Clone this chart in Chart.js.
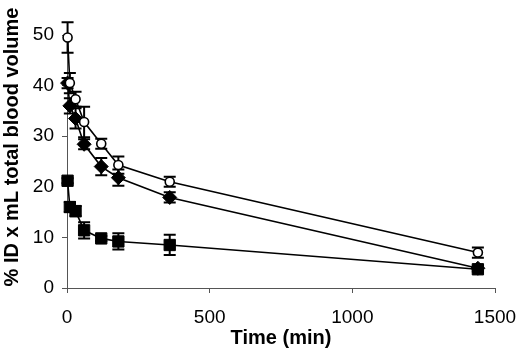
<!DOCTYPE html>
<html>
<head>
<meta charset="utf-8">
<script src="https://cdn.jsdelivr.net/npm/chart.js@4.4.1/dist/chart.umd.min.js"></script>
<style>
  html, body { margin: 0; padding: 0; background: #fff; }
  #wrap { width: 520px; height: 352px; }
</style>
</head>
<body>
<div id="wrap"><canvas id="myChart" width="520" height="352"></canvas></div>
<script>
// sampling times (min)
const times = [2, 10, 30, 60, 120, 180, 360, 1440];

// open circles
const circleVals = [49.5, 40.5, 37.3, 32.8, 28.5, 24.3, 21.0, 7.0];
const circleErr = [3, 2, 1.5, 3, 1, 1.7, 1, 1];
// filled diamonds
const diamondVals = [40.5, 36.0, 33.5, 28.4, 24.0, 21.8, 17.9, 3.9];
const diamondErr = [1, 1.5, 2, 1, 1.7, 1.6, 1, 0.5];
// filled squares
const squareVals = [21.2, 16.0, 15.2, 11.4, 9.8, 9.2, 8.5, 3.7];
const squareErr = [0.5, 1, 1, 1.6, 0.5, 1.6, 2, 0.5];

const xTicks = [0, 500, 1000, 1500];
const yTitle = '% ID x mL total blood volume';
const xTitle = 'Time (min)';

const FONT = "'Liberation Sans', Arial, sans-serif";

function pts(vals, errs) {
  return vals.map((v, i) => ({ x: times[i], y: v, err: errs[i] }));
}

// error bars with caps, drawn under the markers
const errorBars = {
  id: 'errorBars',
  beforeDatasetsDraw(chart) {
    const ctx = chart.ctx;
    const xs = chart.scales.x, ys = chart.scales.y;
    ctx.save();
    ctx.strokeStyle = '#000';
    ctx.lineWidth = 2;
    chart.data.datasets.forEach(ds => {
      ds.data.forEach(p => {
        const px = xs.getPixelForValue(p.x);
        const top = ys.getPixelForValue(p.y + p.err);
        const bot = ys.getPixelForValue(p.y - p.err);
        ctx.beginPath();
        ctx.moveTo(px, top); ctx.lineTo(px, bot);
        ctx.moveTo(px - 6, top); ctx.lineTo(px + 6, top);
        ctx.moveTo(px - 6, bot); ctx.lineTo(px + 6, bot);
        ctx.stroke();
      });
    });
    ctx.restore();
  }
};

// rotated y title, placed like the original (not centred on the plot)
const yTitlePlugin = {
  id: 'yTitlePlugin',
  afterDraw(chart) {
    const ctx = chart.ctx;
    ctx.save();
    ctx.translate(12, 147);
    ctx.rotate(-Math.PI / 2);
    ctx.font = 'bold 20px ' + FONT;
    ctx.fillStyle = '#000';
    ctx.textAlign = 'center';
    ctx.textBaseline = 'middle';
    ctx.fillText(yTitle, 0, 0);
    ctx.restore();
  }
};

const ctx = document.getElementById('myChart');

const myChart = new Chart(ctx, {
  type: 'scatter',
  data: {
    datasets: [
      {
        label: 'circles',
        data: pts(circleVals, circleErr),
        showLine: true,
        borderColor: '#000',
        borderWidth: 1.6,
        pointStyle: 'circle',
        pointRadius: 4.5,
        pointBackgroundColor: '#fff',
        pointBorderColor: '#000',
        pointBorderWidth: 1.6,
        clip: false
      },
      {
        label: 'diamonds',
        data: pts(diamondVals, diamondErr),
        showLine: true,
        borderColor: '#000',
        borderWidth: 1.6,
        pointStyle: 'rectRot',
        pointRadius: 7,
        pointBackgroundColor: '#000',
        pointBorderColor: '#000',
        pointBorderWidth: 1,
        clip: false
      },
      {
        label: 'squares',
        data: pts(squareVals, squareErr),
        showLine: true,
        borderColor: '#000',
        borderWidth: 1.6,
        pointStyle: 'rect',
        pointRadius: 8,
        pointBackgroundColor: '#000',
        pointBorderColor: '#000',
        pointBorderWidth: 1,
        clip: false
      }
    ]
  },
  options: {
    responsive: false,
    animation: false,
    layout: { padding: { top: 35, right: 25, left: 0, bottom: 0 } },
    plugins: {
      legend: { display: false },
      tooltip: { enabled: false }
    },
    scales: {
      x: {
        type: 'linear',
        min: 0,
        max: 1500,
        afterBuildTicks: (scale) => { scale.ticks = xTicks.map(v => ({ value: v })); },
        afterFit: (scale) => { scale.height = 64; scale.paddingRight = 0; },
        border: { display: true, color: '#555', width: 1 },
        grid: { drawOnChartArea: false, drawTicks: true, tickLength: 5, color: '#555' },
        ticks: {
          color: '#000',
          padding: 13,
          maxRotation: 0,
          font: { family: FONT, size: 19 },
          callback: (v) => String(v)
        },
        title: {
          display: true,
          text: xTitle,
          color: '#000',
          font: { family: FONT, size: 20, weight: 'bold' },
          padding: { top: 0, bottom: 2 }
        }
      },
      y: {
        min: 0,
        max: 50,
        afterFit: (scale) => { scale.width = 67; },
        border: { display: true, color: '#555', width: 1 },
        grid: { drawOnChartArea: false, drawTicks: true, tickLength: 5, color: '#555' },
        ticks: {
          stepSize: 5,
          color: '#000',
          padding: 8,
          font: { family: FONT, size: 19 },
          callback: (v) => (v % 10 === 0 ? v : '')
        }
      }
    }
  },
  plugins: [errorBars, yTitlePlugin]
});
</script>
</body>
</html>
